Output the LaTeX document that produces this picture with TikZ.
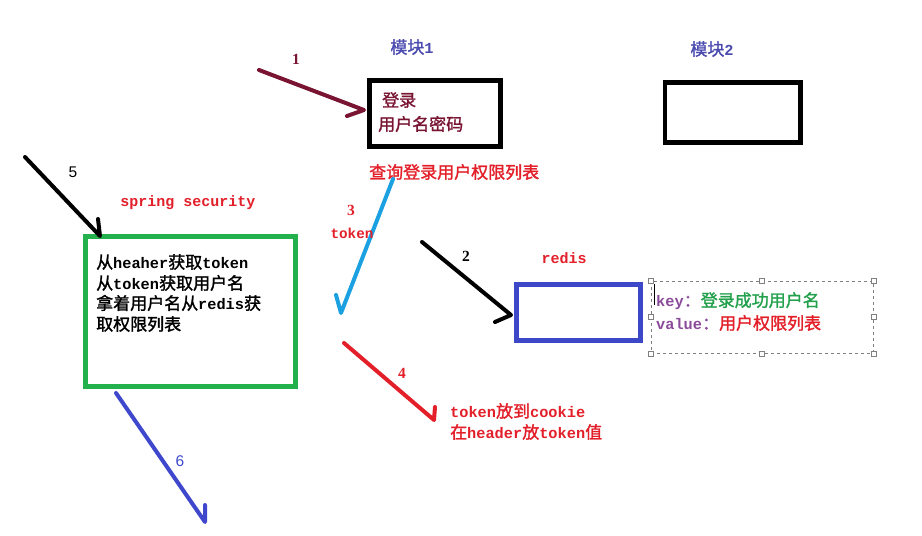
\documentclass[tikz,border=0pt]{standalone}
\usepackage{fontspec}
\setmainfont{Liberation Serif}
\setsansfont{Liberation Sans}
\newfontfamily\cjk[AutoFakeBold=1.5]{Noto Sans CJK SC}
\newfontfamily\mono[Scale=0.9]{Liberation Mono}
\newfontfamily\monofull{Liberation Mono}
\newcommand{\lat}[1]{{\mono\bfseries #1}}
\definecolor{dred}{HTML}{7A1433}
\definecolor{mblue}{HTML}{4B4BB0}
\definecolor{ired}{HTML}{E3202A}
\definecolor{lblue}{HTML}{1BA1E2}
\definecolor{rblue}{HTML}{3C48C8}
\definecolor{gbox}{HTML}{22B14C}
\definecolor{ablue}{HTML}{3F48CC}
\definecolor{kpurple}{HTML}{8B4B9B}
\definecolor{kgreen}{HTML}{22A04B}
\tikzset{
  box/.style={draw, line width=4.5pt, inner sep=0, fill=white},
  txt/.style={inner sep=0, font=\cjk\bfseries\fontsize{17}{20}\selectfont},
  num/.style={inner sep=0, font=\bfseries\fontsize{15.5}{17}\selectfont},
  snum/.style={inner sep=0, font=\sffamily\fontsize{15.5}{17}\selectfont},
  monolab/.style={inner sep=0, font=\monofull\bfseries\fontsize{15}{17}\selectfont, text=ired},
  arr/.style={line width=4pt, line cap=round, line join=round},
  handle/.style={draw=gray, fill=white, line width=0.6pt, minimum size=5pt, inner sep=0},
}
\begin{document}
\begin{tikzpicture}[x=1pt,y=-1pt]
\useasboundingbox (0,0) rectangle (922,536);
\fill[white] (0,0) rectangle (922,536);

% module 1
\node[txt, text=mblue] (lm1) at (412,47) {模块\lat{1}};
\node[box, minimum width=131pt, minimum height=66pt] (m1) at (435,113.5) {};
\node[txt, text=dred, anchor=west] (t1a) at (382,100) {登录};
\node[txt, text=dred, anchor=west] (t1b) at (378,124) {用户名密码};
\node[txt, text=ired, anchor=west] (q) at (369,172) {查询登录用户权限列表};

% module 2
\node[txt, text=mblue] (lm2) at (712,49) {模块\lat{2}};
\node[box, minimum width=135.5pt, minimum height=60pt] (m2) at (732.75,112.5) {};

% spring security box
\node[monolab] (ss) at (188,203) {spring security};
\node[box, draw=gbox, minimum width=210pt, minimum height=150pt] (g) at (190.5,311.5) {};
\node[txt, anchor=west] (g1) at (96,262) {从\lat{heaher}获取\lat{token}};
\node[txt, anchor=west] (g2) at (96,283) {从\lat{token}获取用户名};
\node[txt, anchor=west] (g3) at (96,303) {拿着用户名从\lat{redis}获};
\node[txt, anchor=west] (g4) at (96,324) {取权限列表};

% redis
\node[monolab] (rl) at (564,258) {redis};
\node[box, draw=rblue, line width=5pt, minimum width=124pt, minimum height=56pt] (r) at (578,312.5) {};

% dashed text frame
\node[draw=gray, dashed, line width=0.7pt, inner sep=0, minimum width=222pt, minimum height=72pt] (df) at (762,317) {};
\foreach \p/\n in {north west/h1, north/h2, north east/h3, west/h4, east/h5, south west/h6, south/h7, south east/h8}
  \node[handle] (\n) at (df.\p) {};
\coordinate (cur1) at (654.5,284);
\coordinate (cur2) at (654.5,305);
\draw[line width=0.8pt] (cur1) -- (cur2);
\node[txt, anchor=west] (k1) at (656,301) {\textcolor{kpurple}{\lat{key}：}\textcolor{kgreen}{登录成功用户名}};
\node[txt, anchor=west] (k2) at (656,323) {\textcolor{kpurple}{\lat{value}：}\textcolor{ired}{用户权限列表}};

% token labels
\node[txt, text=ired, anchor=west] (c1) at (450,411) {\lat{token}放到\lat{cookie}};
\node[txt, text=ired, anchor=west] (c2) at (450,432) {在\lat{header}放\lat{token}值};

% arrow 1
\coordinate (a1s) at (259,70);
\coordinate (a1t) at (364,110);
\coordinate (a1b) at (347,116);
\draw[arr, dred] (a1s) -- (a1t) -- (a1b);
\node[num, text=dred] (n1) at (296,59) {1};

% arrow 5
\coordinate (a5s) at (25,157);
\coordinate (a5t) at (100,236);
\coordinate (a5b) at (98,219);
\draw[arr, black] (a5s) -- (a5t) -- (a5b);
\node[snum] (n5) at (73,172) {5};

% arrow 3
\coordinate (a3s) at (393,179);
\coordinate (a3t) at (341,313);
\coordinate (a3b) at (336,295);
\draw[arr, lblue] (a3s) -- (a3t) -- (a3b);
\node[num, text=ired] (n3) at (351,210) {3};
\node[inner sep=0, font=\monofull\bfseries\fontsize{14.3}{16}\selectfont, text=ired] (tk) at (352,233) {token};

% arrow 2
\coordinate (a2s) at (422,242);
\coordinate (a2t) at (511,315);
\coordinate (a2b) at (495,322);
\draw[arr, black] (a2s) -- (a2t) -- (a2b);
\node[num] (n2) at (466,256) {2};

% arrow 4
\coordinate (a4s) at (344,343);
\coordinate (a4t) at (434,420);
\coordinate (a4b) at (435,407);
\draw[arr, ired] (a4s) -- (a4t) -- (a4b);
\node[num, text=ired] (n4) at (402,373) {4};

% arrow 6
\coordinate (a6s) at (116,393);
\coordinate (a6t) at (205,522);
\coordinate (a6b) at (205,505);
\draw[arr, ablue] (a6s) -- (a6t) -- (a6b);
\node[snum, text=ablue] (n6) at (180,461) {6};
\end{tikzpicture}
\end{document}
